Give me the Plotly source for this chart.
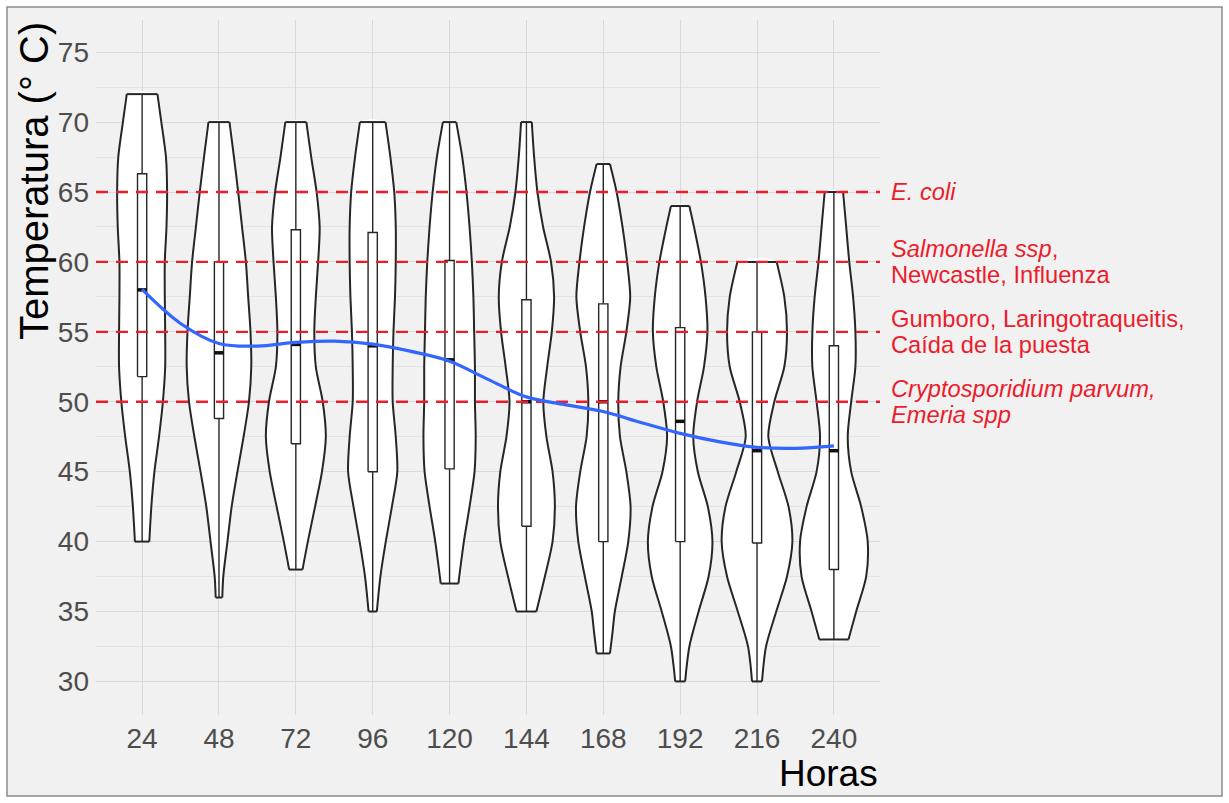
import plotly.graph_objects as go

# ---------------- data ----------------
categories = ["24", "48", "72", "96", "120", "144", "168", "192", "216", "240"]
positions = [1, 2, 3, 4, 5, 6, 7, 8, 9, 10]

temp_min = [40, 36, 38, 35, 37, 35, 32, 30, 30, 33]
temp_max = [72, 70, 70, 70, 70, 70, 67, 64, 60, 65]
q1_vals = [51.8, 48.8, 47.0, 45.0, 45.2, 41.1, 40.0, 40.0, 39.9, 38.0]
median_vals = [58.0, 53.5, 54.1, 54.0, 53.0, 50.0, 50.0, 48.6, 46.5, 46.5]
q3_vals = [66.3, 60.0, 62.3, 62.1, 60.1, 57.3, 57.0, 55.3, 55.0, 54.0]

# violin outlines: temperature levels and half-widths (category units)
violin_temps = [
    [72, 70, 67.5, 65, 62.5, 60, 57.5, 55, 52.5, 50, 47.5, 45, 42.5, 40],
    [70, 67.5, 65, 62.5, 60, 57.5, 55, 52.5, 50, 47.5, 45, 42.5, 40, 37.5, 36],
    [70, 67.5, 65, 62.5, 60, 57.5, 55, 52.5, 50, 47.5, 45, 42.5, 40, 38],
    [70, 67.5, 65, 62.5, 60, 57.5, 55, 52.5, 50, 47.5, 45, 42.5, 40, 37.5, 35],
    [70, 67.5, 65, 62.5, 60, 57.5, 55, 52.5, 50, 47.5, 45, 42.5, 40, 37],
    [70, 67.5, 65, 62.5, 60, 57.5, 55, 52.5, 50, 47.5, 45, 42.5, 40, 37.5, 35],
    [67, 65, 62.5, 60, 57.5, 55, 52.5, 50, 47.5, 45, 42.5, 40, 37.5, 35, 33.5, 32],
    [64, 62.5, 60, 57.5, 55, 52.5, 50, 47.5, 45, 42.5, 40, 37.5, 35, 32.5, 30],
    [60, 57.5, 55, 52.5, 50, 47.5, 45, 42.5, 40, 37.5, 35, 32.5, 30],
    [65, 62.5, 60, 57.5, 55, 52.5, 50, 47.5, 45, 42.5, 40, 37.5, 35, 33],
]
violin_halfwidths = [
    [0.20, 0.25, 0.31, 0.325, 0.317, 0.295, 0.295, 0.30, 0.30, 0.27, 0.22, 0.16, 0.12, 0.094],
    [0.137, 0.195, 0.25, 0.30, 0.35, 0.38, 0.41, 0.42, 0.39, 0.32, 0.24, 0.165, 0.11, 0.056, 0.043],
    [0.137, 0.20, 0.27, 0.31, 0.29, 0.26, 0.24, 0.26, 0.35, 0.39, 0.34, 0.25, 0.156, 0.087],
    [0.167, 0.23, 0.28, 0.30, 0.30, 0.29, 0.27, 0.26, 0.26, 0.30, 0.32, 0.25, 0.17, 0.10, 0.054],
    [0.087, 0.165, 0.22, 0.26, 0.29, 0.31, 0.32, 0.33, 0.33, 0.34, 0.325, 0.26, 0.186, 0.115],
    [0.07, 0.10, 0.143, 0.217, 0.32, 0.36, 0.33, 0.27, 0.22, 0.26, 0.34, 0.37, 0.34, 0.24, 0.13],
    [0.087, 0.173, 0.25, 0.31, 0.35, 0.30, 0.225, 0.195, 0.217, 0.30, 0.355, 0.325, 0.24, 0.15, 0.12, 0.087],
    [0.12, 0.18, 0.27, 0.33, 0.355, 0.31, 0.22, 0.17, 0.23, 0.36, 0.42, 0.37, 0.24, 0.12, 0.065],
    [0.256, 0.355, 0.39, 0.355, 0.225, 0.147, 0.27, 0.41, 0.46, 0.39, 0.25, 0.117, 0.065],
    [0.12, 0.16, 0.20, 0.25, 0.28, 0.28, 0.225, 0.18, 0.225, 0.355, 0.44, 0.42, 0.29, 0.19],
]

# smooth trend
smooth_x = [1, 1.5, 2, 2.5, 3, 3.5, 4, 4.5, 5, 5.5, 6, 6.5, 7, 7.5, 8, 8.5, 9, 9.5, 10]
smooth_y = [58.03, 55.6, 54.17, 53.98, 54.24, 54.33, 54.12, 53.6, 52.9, 51.6, 50.35,
            49.8, 49.3, 48.5, 47.74, 47.15, 46.74, 46.67, 46.84]

# thresholds and their labels (one list per text line)
threshold_vals = [65, 60, 55, 50]
threshold_labels = [
    ["<i>E. coli</i>"],
    ["<i>Salmonella ssp</i>,", "Newcastle, Influenza"],
    ["Gumboro, Laringotraqueitis,", "Caída de la puesta"],
    ["<i>Cryptosporidium parvum,</i>", "<i>Emeria spp</i>"],
]

y_ticks = [30, 35, 40, 45, 50, 55, 60, 65, 70, 75]

# ---------------- style ----------------
FONT = "Liberation Sans, Arial, sans-serif"
RED = "#ec1c2c"
BLUE = "#3366FF"
OUTLINE = "#262626"
BOX_HALF = 0.06
SMOOTH = 0.8
SIDE_LINE = dict(color=OUTLINE, width=2, shape="spline", smoothing=SMOOTH)

fig = go.Figure()

# violins: white body (closed outline), then smooth sides and flat caps
for pos, temps, widths in zip(positions, violin_temps, violin_halfwidths):
    xs = [pos - w for w in widths] + [pos + w for w in reversed(widths)]
    ys = list(temps) + list(reversed(temps))
    fig.add_trace(go.Scatter(
        x=xs + [xs[0]], y=ys + [ys[0]], mode="lines", fill="toself", fillcolor="white",
        line=dict(width=0, color="white", shape="spline", smoothing=SMOOTH),
        hoverinfo="skip", showlegend=False))
    fig.add_trace(go.Scatter(
        x=[pos - w for w in widths], y=temps, mode="lines",
        line=SIDE_LINE, hoverinfo="skip", showlegend=False))
    fig.add_trace(go.Scatter(
        x=[pos + w for w in widths], y=temps, mode="lines",
        line=SIDE_LINE, hoverinfo="skip", showlegend=False))
    fig.add_trace(go.Scatter(
        x=[pos - widths[0], pos + widths[0], None, pos - widths[-1], pos + widths[-1]],
        y=[temps[0], temps[0], None, temps[-1], temps[-1]], mode="lines",
        line=dict(color=OUTLINE, width=2), hoverinfo="skip", showlegend=False))

# boxplots (whiskers, box, median)
for pos, lo, a, m, b, hi in zip(positions, temp_min, q1_vals, median_vals, q3_vals, temp_max):
    fig.add_trace(go.Scatter(
        x=[pos, pos, None, pos, pos], y=[lo, a, None, b, hi], mode="lines",
        line=dict(color=OUTLINE, width=1.4), hoverinfo="skip", showlegend=False))
    fig.add_trace(go.Scatter(
        x=[pos - BOX_HALF, pos + BOX_HALF, pos + BOX_HALF, pos - BOX_HALF, pos - BOX_HALF],
        y=[a, a, b, b, a], mode="lines", fill="toself", fillcolor="white",
        line=dict(color=OUTLINE, width=1.4), hoverinfo="skip", showlegend=False))
    fig.add_trace(go.Scatter(
        x=[pos - BOX_HALF, pos + BOX_HALF], y=[m, m], mode="lines",
        line=dict(color="#111111", width=3.5), hoverinfo="skip", showlegend=False))

# threshold lines
for t in threshold_vals:
    fig.add_trace(go.Scatter(
        x=[0.4, 10.6], y=[t, t], mode="lines",
        line=dict(color=RED, width=2.4, dash="12px,8px"),
        hoverinfo="skip", showlegend=False))

# smooth line
fig.add_trace(go.Scatter(
    x=smooth_x, y=smooth_y, mode="lines",
    line=dict(color=BLUE, width=3.2, shape="spline", smoothing=1.0),
    hoverinfo="skip", showlegend=False))

annotations = []
for t, lines in zip(threshold_vals, threshold_labels):
    n = len(lines)
    for k, txt in enumerate(lines):
        shift = 0 if n == 1 else (13 if k == 0 else -13)
        annotations.append(dict(
            x=1.012, xref="paper", y=t, yref="y", yshift=shift,
            text=txt, showarrow=False, xanchor="left", yanchor="middle",
            font=dict(family=FONT, size=23.7, color=RED)))

annotations.append(dict(
    x=-0.079, xref="paper", y=1.0, yref="paper", text="Temperatura (° C)",
    textangle=-90, showarrow=False, xanchor="center", yanchor="top",
    font=dict(family=FONT, size=40, color="black")))
annotations.append(dict(
    x=1.0, xref="paper", y=-0.084, yref="paper", text="Horas",
    showarrow=False, xanchor="right", yanchor="middle",
    font=dict(family=FONT, size=37, color="black")))

L, R, T, B = 96, 349, 20, 88
W, H = 1229, 803
pw, ph = W - L - R, H - T - B

fig.update_layout(
    width=W, height=H,
    margin=dict(l=L, r=R, t=T, b=B),
    paper_bgcolor="white",
    plot_bgcolor="#f1f1f1",
    showlegend=False,
    annotations=annotations,
    shapes=[dict(
        type="rect", xref="paper", yref="paper",
        x0=(7 - L) / pw, x1=(1222 - L) / pw,
        y0=-(796 - (H - B)) / ph, y1=1 + (T - 7) / ph,
        fillcolor="#f1f1f1", line=dict(color="#8a8a8a", width=1.5), layer="below")],
    xaxis=dict(
        range=[0.4, 10.6], tickmode="array", tickvals=positions, ticktext=categories,
        showgrid=True, gridcolor="#d9d9d9", gridwidth=1, zeroline=False, showline=False,
        ticks="", ticklabelstandoff=4,
        tickfont=dict(family=FONT, size=28, color="#4d4d4d")),
    yaxis=dict(
        range=[27.6, 77.3], tickmode="array", tickvals=y_ticks,
        showgrid=True, gridcolor="#d9d9d9", gridwidth=1, zeroline=False, showline=False,
        ticks="", ticklabelstandoff=6,
        minor=dict(tickmode="linear", tick0=27.5, dtick=5, showgrid=True,
                   gridcolor="#e3e3e3", gridwidth=1),
        tickfont=dict(family=FONT, size=28, color="#4d4d4d")),
)

fig.write_html("out.html")
